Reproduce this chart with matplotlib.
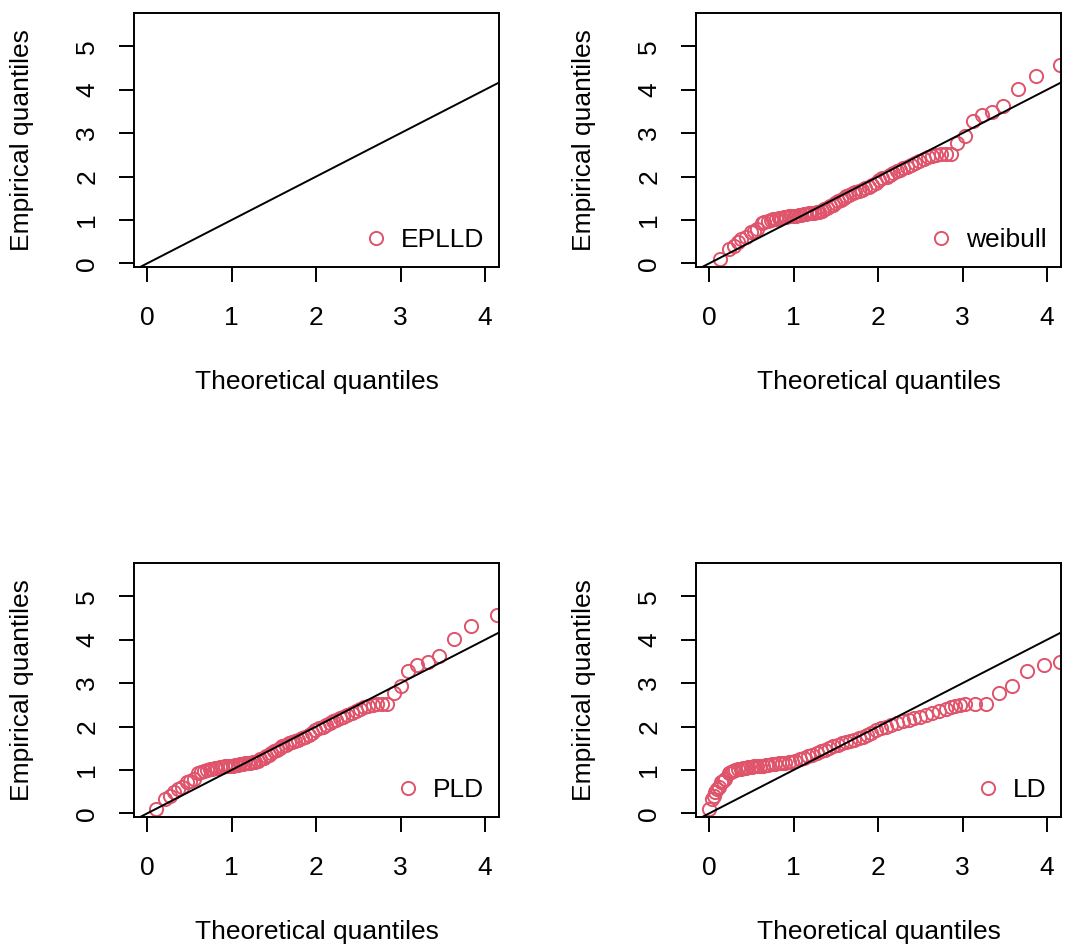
#!/usr/bin/env python

"""
QQ plots of the empirical quantiles against four fitted distributions,
laid out 2x2 like an R base graphics par(mfrow=c(2,2)) figure.
"""

import numpy as np
import matplotlib
matplotlib.use("Agg")
import matplotlib.pyplot as plt

plt.rcParams['font.family'] = ['Liberation Sans', 'DejaVu Sans']

# sorted sample (empirical quantiles)
emp_q = [0.10, 0.33, 0.41, 0.50, 0.56, 0.60, 0.72, 0.75, 0.78, 0.92,
         0.95, 0.97, 1.00, 1.02, 1.03, 1.04, 1.05, 1.06, 1.07, 1.08,
         1.09, 1.10, 1.10, 1.11, 1.12, 1.13, 1.14, 1.15, 1.16, 1.17,
         1.18, 1.19, 1.21, 1.25, 1.28, 1.31, 1.35, 1.39, 1.43, 1.47,
         1.51, 1.55, 1.58, 1.61, 1.64, 1.67, 1.70, 1.73, 1.77, 1.81,
         1.86, 1.92, 1.97, 2.00, 2.04, 2.08, 2.12, 2.16, 2.19, 2.23,
         2.27, 2.31, 2.36, 2.41, 2.45, 2.48, 2.50, 2.52, 2.53, 2.53,
         2.77, 2.94, 3.29, 3.42, 3.49, 3.62, 4.02, 4.32, 4.57]

# theoretical quantiles for each fitted model
weibull_q = [0.13, 0.23, 0.29, 0.34, 0.38, 0.43, 0.49, 0.53, 0.57, 0.62,
             0.65, 0.69, 0.73, 0.76, 0.79, 0.82, 0.85, 0.88, 0.91, 0.94,
             0.97, 1.00, 1.03, 1.06, 1.09, 1.12, 1.15, 1.18, 1.21, 1.24,
             1.27, 1.30, 1.33, 1.36, 1.40, 1.43, 1.46, 1.49, 1.52, 1.56,
             1.59, 1.62, 1.66, 1.70, 1.73, 1.77, 1.81, 1.85, 1.89, 1.93,
             1.97, 2.01, 2.05, 2.10, 2.14, 2.18, 2.22, 2.26, 2.30, 2.34,
             2.39, 2.44, 2.49, 2.54, 2.59, 2.64, 2.69, 2.74, 2.80, 2.86,
             2.94, 3.03, 3.12, 3.23, 3.35, 3.48, 3.66, 3.87, 4.16]

pld_q = [0.10, 0.21, 0.27, 0.32, 0.36, 0.41, 0.47, 0.51, 0.55, 0.60,
         0.63, 0.67, 0.71, 0.74, 0.77, 0.80, 0.83, 0.86, 0.89, 0.92,
         0.95, 0.98, 1.01, 1.04, 1.07, 1.10, 1.13, 1.16, 1.19, 1.22,
         1.25, 1.28, 1.31, 1.34, 1.38, 1.41, 1.44, 1.47, 1.50, 1.54,
         1.57, 1.60, 1.64, 1.68, 1.71, 1.75, 1.79, 1.83, 1.87, 1.91,
         1.95, 1.99, 2.03, 2.08, 2.12, 2.16, 2.20, 2.24, 2.28, 2.32,
         2.37, 2.42, 2.47, 2.52, 2.57, 2.62, 2.67, 2.72, 2.78, 2.84,
         2.92, 3.01, 3.09, 3.20, 3.32, 3.46, 3.63, 3.84, 4.14]

ld_q = [0.00, 0.03, 0.05, 0.07, 0.09, 0.11, 0.14, 0.16, 0.19, 0.23,
        0.26, 0.28, 0.31, 0.34, 0.37, 0.40, 0.43, 0.46, 0.50, 0.53,
        0.56, 0.60, 0.63, 0.67, 0.70, 0.74, 0.78, 0.82, 0.86, 0.90,
        0.94, 0.98, 1.02, 1.07, 1.12, 1.17, 1.22, 1.27, 1.32, 1.37,
        1.42, 1.47, 1.52, 1.57, 1.62, 1.67, 1.72, 1.77, 1.82, 1.87,
        1.92, 1.97, 2.03, 2.09, 2.15, 2.22, 2.29, 2.36, 2.43, 2.50,
        2.57, 2.64, 2.72, 2.80, 2.86, 2.91, 2.97, 3.03, 3.15, 3.28,
        3.43, 3.59, 3.77, 3.97, 4.16, 4.40, 4.70, 5.10, 5.80]

# EPLLD panel shows only the reference line and its legend entry
models = ["EPLLD", "weibull", "PLD", "LD"]
theo_q = [None, weibull_q, pld_q, ld_q]

PINK = "#DF536B"
LW = 1.4


def qq_panel(ax, name, theo):
    marker_style = dict(linestyle="none", marker="o", markersize=9.5,
                        markerfacecolor="none", markeredgecolor=PINK,
                        markeredgewidth=1.4, label=name)
    if theo is not None:
        ax.plot(theo, emp_q, **marker_style)
    else:
        ax.plot([], [], **marker_style)
    ax.axline((0, 0), slope=1, color="black", linewidth=LW)

    ax.set_xlim(-0.158, 4.167)
    ax.set_ylim(-0.085, 5.77)
    ax.set_xticks([0, 1, 2, 3, 4])
    ax.set_yticks([0, 1, 2, 3, 4, 5])
    ax.tick_params(axis="both", direction="out", length=11, width=LW,
                   labelsize=19)
    ax.tick_params(axis="x", pad=17)
    ax.tick_params(axis="y", pad=14)
    for lab in ax.get_yticklabels():
        lab.set_rotation(90)
        lab.set_va("center")
    for sp in ax.spines.values():
        sp.set_linewidth(LW)

    ax.set_xlabel("Theoretical quantiles", fontsize=19)
    ax.set_ylabel("Empirical quantiles", fontsize=19)
    ax.xaxis.set_label_coords(0.5, -0.405)
    ax.yaxis.set_label_coords(-0.275, 0.5)

    ax.legend(loc="lower right", frameon=False, fontsize=19,
              handlelength=1.0, handletextpad=0.45,
              borderpad=0.25, borderaxespad=0.3)


def main():
    fig = plt.figure(figsize=(10.65, 9.49), dpi=100)
    w, h = 365 / 1065, 254 / 949
    lefts = [134 / 1065, 696 / 1065]
    bottoms = [1 - 267 / 949, 1 - 817 / 949]
    k = 0
    for b in bottoms:
        for l in lefts:
            ax = fig.add_axes([l, b, w, h])
            qq_panel(ax, models[k], theo_q[k])
            k += 1
    fig.savefig("out.png", dpi=100)


main()
